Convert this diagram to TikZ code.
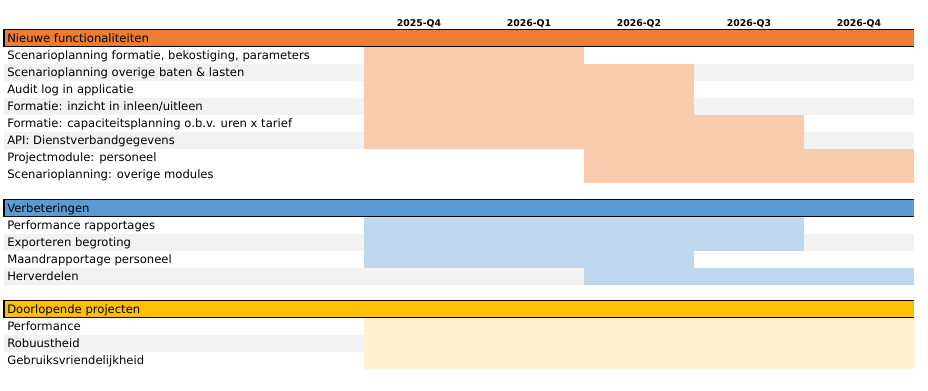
\documentclass[tikz,border=0pt]{standalone}
\usepackage{fontspec}
\setmainfont{DejaVu Sans}
\definecolor{nfhead}{HTML}{ED7D31}
\definecolor{nfbar}{HTML}{F8CBAD}
\definecolor{vbhead}{HTML}{5B9BD5}
\definecolor{vbbar}{HTML}{BDD7EE}
\definecolor{dphead}{HTML}{FFC000}
\definecolor{dpbar}{HTML}{FFF2CC}
\definecolor{stripegray}{HTML}{F2F2F2}
\begin{document}
\begin{tikzpicture}[x=0.75pt,y=-0.75pt,
    stripe/.style={fill=stripegray},
    headline/.style={draw=black,line width=0.8pt},
    rowtext/.style={anchor=base west,inner sep=0pt,font=\fontsize{8.7}{10}\selectfont},
    headtext/.style={anchor=base west,inner sep=0pt,font=\fontsize{8.7}{10}\selectfont},
    qlabel/.style={anchor=base,inner sep=0pt,font=\fontsize{7}{8}\selectfont\bfseries}]
  \useasboundingbox (0,0) rectangle (928,390);

  % kwartalen
  \foreach \q [count=\i from 0] in {2025-Q4,2026-Q1,2026-Q2,2026-Q3,2026-Q4}
    \node[qlabel] (q\i) at ({419+110*\i},26.5) {\q};

  % Nieuwe functionaliteiten
  \fill[stripe] (4,63.5) rectangle (914,80.5);
  \fill[stripe] (4,97.5) rectangle (914,114.5);
  \fill[stripe] (4,131.5) rectangle (914,148.5);
  \fill[nfbar] (364,46.5) rectangle (584,63.5);
  \fill[nfbar] (364,63.5) rectangle (694,114.5);
  \fill[nfbar] (364,114.5) rectangle (804,148.5);
  \fill[nfbar] (584,148.5) rectangle (914,182.5);
  \fill[nfhead] (4,29.5) rectangle (914,46.5);
  \draw[headline] (914,29.5) -- (4,29.5) -- (4,46.5) -- (914,46.5);
  \node[headtext] (nf) at (7,42.8) {Nieuwe functionaliteiten};
  \foreach \t [count=\i] in {{Scenarioplanning formatie, bekostiging, parameters},
      {Scenarioplanning overige baten \& lasten},{Audit log in applicatie},
      {Formatie: inzicht in inleen/uitleen},
      {Formatie: capaciteitsplanning o.b.v. uren x tarief},
      {API: Dienstverbandgegevens},{Projectmodule: personeel},
      {Scenarioplanning: overige modules}}
    \node[rowtext] (nf\i) at (7,{42.5+17*\i}) {\t};

  % Verbeteringen
  \fill[stripe] (4,233.5) rectangle (914,250.5);
  \fill[stripe] (4,267.5) rectangle (914,284.5);
  \fill[vbbar] (364,216.5) rectangle (804,250.5);
  \fill[vbbar] (364,250.5) rectangle (694,267.5);
  \fill[vbbar] (584,267.5) rectangle (914,284.5);
  \fill[vbhead] (4,199.5) rectangle (914,216.5);
  \draw[headline] (914,199.5) -- (4,199.5) -- (4,216.5) -- (914,216.5);
  \node[headtext] (vb) at (7,212.8) {Verbeteringen};
  \foreach \t [count=\i] in {Performance rapportages,Exporteren begroting,
      Maandrapportage personeel,Herverdelen}
    \node[rowtext] (vb\i) at (7,{212.5+17*\i}) {\t};

  % Doorlopende projecten
  \fill[stripe] (4,334.5) rectangle (914,351.5);
  \fill[dpbar] (364,317.5) rectangle (914,368.5);
  \fill[dphead] (4,300.5) rectangle (914,317.5);
  \draw[headline] (914,300.5) -- (4,300.5) -- (4,317.5) -- (914,317.5);
  \node[headtext] (dp) at (7,313.8) {Doorlopende projecten};
  \foreach \t [count=\i] in {Performance,Robuustheid,Gebruiksvriendelijkheid}
    \node[rowtext] (dp\i) at (7,{313.5+17*\i}) {\t};
\end{tikzpicture}
\end{document}
